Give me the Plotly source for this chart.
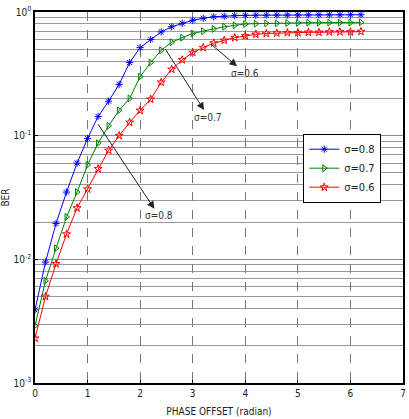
import plotly.graph_objects as go

phase = [round(0.2 * i, 1) for i in range(32)]

ber_08 = [0.0039, 0.0095, 0.0195, 0.035, 0.06, 0.095, 0.143, 0.19, 0.26, 0.39,
          0.515, 0.60, 0.69, 0.76, 0.81, 0.857, 0.89, 0.915, 0.925, 0.935,
          0.94, 0.942, 0.944, 0.945, 0.946, 0.947, 0.948, 0.948, 0.949, 0.95,
          0.95, 0.95]
ber_07 = [0.0029, 0.0067, 0.0123, 0.022, 0.035, 0.058, 0.087, 0.12, 0.16, 0.20,
          0.30, 0.39, 0.49, 0.57, 0.62, 0.67, 0.70, 0.73, 0.76, 0.78,
          0.80, 0.805, 0.81, 0.81, 0.815, 0.815, 0.82, 0.82, 0.82, 0.82,
          0.82, 0.825]
ber_06 = [0.0023, 0.005, 0.0092, 0.016, 0.026, 0.037, 0.054, 0.076, 0.10, 0.128,
          0.16, 0.197, 0.27, 0.344, 0.41, 0.47, 0.515, 0.56, 0.59, 0.62,
          0.64, 0.66, 0.67, 0.675, 0.68, 0.68, 0.685, 0.685, 0.69, 0.69,
          0.69, 0.695]

series = [
    ("σ=0.8", ber_08, "#0000ff", "asterisk-open"),
    ("σ=0.7", ber_07, "#008000", "triangle-right-open"),
    ("σ=0.6", ber_06, "#ff0000", "star-open"),
]

x_ticks = [0, 1, 2, 3, 4, 5, 6, 7]
y_ticks = [1e-3, 1e-2, 1e-1, 1]
y_tick_text = ["10<sup>-3</sup>", "10<sup>-2</sup>", "10<sup>-1</sup>", "10<sup>0</sup>"]

FONT = "DejaVu Sans Condensed, Liberation Sans Narrow, Arial Narrow, Liberation Sans, Arial"

fig = go.Figure()
for name, vals, col, sym in series:
    fig.add_trace(go.Scatter(
        x=phase, y=vals, name=name, mode="lines+markers",
        line=dict(color=col, width=1),
        marker=dict(symbol=sym, size=6, color=col, line=dict(color=col, width=1)),
    ))

arrows = [
    # (text, tail_x, tail_logy, text_x, text_logy)
    ("σ=0.6", 3.35, -0.261, 4.0, -0.495),
    ("σ=0.7", 2.48, -0.301, 3.30, -0.85),
    ("σ=0.8", 1.20, -0.907, 2.36, -1.648),
]
for t, tx, ty, lx, ly in arrows:
    fig.add_annotation(x=tx, y=ty, ax=lx, ay=ly, axref="x", ayref="y",
                       xref="x", yref="y", text=t, showarrow=True,
                       arrowside="start", startarrowhead=2, startarrowsize=1.5,
                       arrowwidth=1, arrowcolor="#222",
                       font=dict(family=FONT, size=10, color="#333"))

fig.update_layout(
    width=409, height=419,
    margin=dict(l=33, r=3, t=12, b=35),
    plot_bgcolor="white", paper_bgcolor="white",
    font=dict(family=FONT, size=10, color="#222"),
    showlegend=True,
    legend=dict(x=0.729, y=0.672, xanchor="left", yanchor="top",
                bordercolor="black", borderwidth=1, bgcolor="white",
                font=dict(family=FONT, size=11), itemwidth=30,
                tracegroupgap=0),
)
fig.update_xaxes(
    range=[0, 7], tickvals=x_ticks, showline=True, linecolor="black",
    linewidth=1.5, mirror=True, showgrid=True, gridcolor="#777",
    griddash="dash", gridwidth=1, zeroline=False, ticks="inside",
    ticklen=3, tickcolor="black",
    title=dict(text="PHASE OFFSET (radian)", font=dict(family=FONT, size=10), standoff=10),
)
fig.update_yaxes(
    type="log", range=[-3, 0], tickvals=y_ticks, ticktext=y_tick_text,
    showline=True, linecolor="black", linewidth=1.5, mirror=True,
    showgrid=True, gridcolor="#888", gridwidth=1, zeroline=False,
    ticks="inside", ticklen=3, tickcolor="black",
    minor=dict(showgrid=True, gridcolor="#999", gridwidth=1, dtick="D1"),
    title=dict(text="BER", font=dict(family=FONT, size=10), standoff=4),
)

fig.write_html("out.html")
